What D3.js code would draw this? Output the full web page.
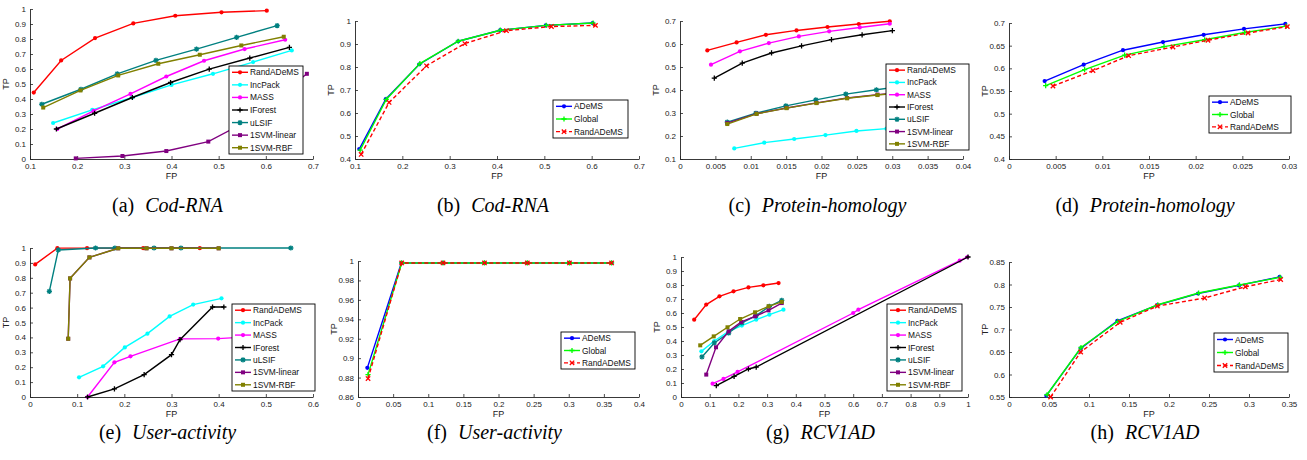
<!DOCTYPE html>
<html>
<head>
<meta charset="utf-8">
<script src="https://cdnjs.cloudflare.com/ajax/libs/d3/7.8.5/d3.min.js"></script>
<style>
body{margin:0;background:#fff;}
.tk text{font-family:"Liberation Sans",Arial,sans-serif;font-size:8px;fill:#222;}
</style>
</head>
<body>
<svg id="fig" width="1307" height="460"></svg>
<script>
// series data, [FP, TP] pairs

// (a) Cod-RNA, all methods
var aRandADeMS = [[0.108,0.443],[0.166,0.657],[0.238,0.806],[0.319,0.904],[0.408,0.955],[0.506,0.978],[0.602,0.989]];
var aIncPack = [[0.149,0.240],[0.232,0.327],[0.317,0.410],[0.400,0.494],[0.488,0.568],[0.573,0.646],[0.655,0.724]];
var aMASS = [[0.158,0.200],[0.235,0.321],[0.313,0.434],[0.389,0.550],[0.469,0.655],[0.555,0.733],[0.641,0.795]];
var aIForest = [[0.156,0.200],[0.237,0.305],[0.317,0.410],[0.398,0.510],[0.480,0.599],[0.566,0.673],[0.650,0.744]];
var auLSIF = [[0.125,0.365],[0.208,0.465],[0.285,0.568],[0.367,0.657],[0.453,0.733],[0.538,0.811],[0.624,0.889]];
var aSVMlinear = [[0.197,0.004],[0.296,0.020],[0.389,0.053],[0.478,0.116],[0.565,0.260],[0.687,0.568]];
var aSVMrbf = [[0.128,0.343],[0.207,0.457],[0.287,0.557],[0.372,0.635],[0.460,0.695],[0.548,0.757],[0.638,0.815]];

// (b) Cod-RNA, variants
var bADeMS = [[0.109,0.443],[0.165,0.660],[0.236,0.812],[0.318,0.912],[0.407,0.960],[0.503,0.981],[0.602,0.991]];
var bGlobal = [[0.111,0.439],[0.166,0.659],[0.237,0.815],[0.318,0.912],[0.407,0.960],[0.504,0.981],[0.603,0.991]];
var bRandADeMS = [[0.113,0.420],[0.172,0.646],[0.251,0.805],[0.332,0.902],[0.420,0.958],[0.515,0.976],[0.608,0.981]];

// (c) Protein-homology, all methods
var cRandADeMS = [[0.00386,0.572],[0.0080,0.607],[0.01214,0.640],[0.01647,0.659],[0.02085,0.674],[0.02527,0.687],[0.02965,0.699]];
var cIncPack = [[0.00767,0.146],[0.01191,0.171],[0.01614,0.187],[0.02056,0.204],[0.02494,0.222],[0.02918,0.232]];
var cMASS = [[0.00438,0.510],[0.00847,0.568],[0.01256,0.604],[0.0168,0.633],[0.02108,0.655],[0.02541,0.672],[0.02965,0.688]];
var cIForest = [[0.00485,0.452],[0.0088,0.517],[0.01294,0.561],[0.01718,0.592],[0.02141,0.619],[0.02574,0.640],[0.03002,0.658]];
var cuLSIF = [[0.00668,0.260],[0.01073,0.299],[0.01496,0.331],[0.0192,0.357],[0.02343,0.382],[0.02776,0.401],[0.0318,0.418]];
var cSVMlinear = [[0.00668,0.256],[0.01082,0.297],[0.01506,0.322],[0.01929,0.344],[0.02362,0.365],[0.02791,0.380],[0.0321,0.392]];
var cSVMrbf = [[0.00668,0.252],[0.01082,0.296],[0.01506,0.321],[0.01929,0.343],[0.02362,0.364],[0.02791,0.378],[0.0321,0.390]];

// (d) Protein-homology, variants
var dADeMS = [[0.00382,0.572],[0.0080,0.608],[0.01221,0.640],[0.0165,0.658],[0.02086,0.674],[0.02518,0.687],[0.02961,0.698]];
var dGlobal = [[0.00393,0.562],[0.0081,0.597],[0.01239,0.629],[0.01661,0.648],[0.02096,0.663],[0.02525,0.679],[0.0297,0.693]];
var dRandADeMS = [[0.00471,0.561],[0.0090,0.595],[0.01282,0.628],[0.01757,0.647],[0.02132,0.662],[0.02561,0.678],[0.02982,0.692]];

// (e) User-activity, all methods
var eRandADeMS = [[0.011,0.890],[0.058,0.999],[0.121,0.999],[0.240,0.999],[0.360,0.999]];
var eIncPack = [[0.104,0.132],[0.155,0.206],[0.201,0.333],[0.249,0.425],[0.296,0.541],[0.346,0.620],[0.406,0.662]];
var eMASS = [[0.122,0.0],[0.179,0.233],[0.213,0.273],[0.318,0.390],[0.399,0.392],[0.600,0.430]];
var eIForest = [[0.122,0.0],[0.179,0.054],[0.242,0.150],[0.300,0.284],[0.318,0.385],[0.387,0.604],[0.411,0.604]];
var euLSIF = [[0.041,0.709],[0.060,0.987],[0.139,1.0],[0.180,1.0],[0.263,1.0],[0.320,1.0],[0.553,1.0]];
var eSVMlinear = [[0.081,0.391],[0.085,0.796],[0.126,0.937],[0.187,0.998],[0.247,0.998],[0.300,0.998],[0.400,0.998]];
var eSVMrbf = [[0.081,0.391],[0.085,0.796],[0.126,0.937],[0.187,0.998],[0.247,0.998],[0.300,0.998],[0.400,0.998]];

// (f) User-activity, variants
var fADeMS = [[0.0133,0.890],[0.0617,0.998],[0.121,0.998],[0.180,0.998],[0.241,0.998],[0.301,0.998],[0.361,0.998]];
var fGlobal = [[0.0143,0.883],[0.0622,0.998],[0.121,0.998],[0.180,0.998],[0.241,0.998],[0.301,0.998],[0.361,0.998]];
var fRandADeMS = [[0.0143,0.879],[0.0622,0.998],[0.121,0.998],[0.180,0.998],[0.241,0.998],[0.301,0.998],[0.361,0.998]];

// (g) RCV1AD, all methods
var gRandADeMS = [[0.046,0.552],[0.088,0.660],[0.134,0.719],[0.183,0.755],[0.235,0.783],[0.287,0.798],[0.340,0.814]];
var gIncPack = [[0.071,0.326],[0.116,0.400],[0.166,0.469],[0.212,0.510],[0.262,0.552],[0.308,0.588],[0.357,0.624]];
var gMASS = [[0.110,0.095],[0.148,0.129],[0.197,0.179],[0.600,0.600],[0.618,0.624],[0.971,0.974],[0.998,1.0]];
var gIForest = [[0.123,0.081],[0.185,0.148],[0.235,0.200],[0.262,0.214],[1.0,1.0]];
var guLSIF = [[0.073,0.286],[0.116,0.386],[0.166,0.457],[0.212,0.529],[0.262,0.581],[0.308,0.648],[0.351,0.690]];
var gSVMlinear = [[0.088,0.160],[0.122,0.355],[0.166,0.469],[0.210,0.536],[0.258,0.576],[0.305,0.619],[0.351,0.671]];
var gSVMrbf = [[0.067,0.369],[0.114,0.433],[0.162,0.498],[0.206,0.557],[0.258,0.605],[0.305,0.648],[0.351,0.679]];

// (h) RCV1AD, variants
var hADeMS = [[0.0467,0.553],[0.0896,0.658],[0.1354,0.719],[0.1854,0.754],[0.2363,0.780],[0.2875,0.798],[0.3383,0.817]];
var hGlobal = [[0.0475,0.555],[0.0900,0.660],[0.1360,0.718],[0.1860,0.755],[0.2370,0.781],[0.2880,0.799],[0.3390,0.816]];
var hRandADeMS = [[0.0520,0.550],[0.0896,0.650],[0.1390,0.716],[0.1854,0.752],[0.2446,0.770],[0.2954,0.795],[0.3396,0.811]];

var methodsAll = ["RandADeMS","IncPack","MASS","IForest","uLSIF","1SVM-linear","1SVM-RBF"];
var methodsVar = ["ADeMS","Global","RandADeMS"];
var captions = [["(a)","Cod-RNA"],["(b)","Cod-RNA"],["(c)","Protein-homology"],["(d)","Protein-homology"],
                ["(e)","User-activity"],["(f)","User-activity"],["(g)","RCV1AD"],["(h)","RCV1AD"]];

// line styles for the two kinds of panels
var styleAll = {
	"RandADeMS":  {c:"#ff0000", m:"dot"},
	"IncPack":    {c:"#00ffff", m:"dot"},
	"MASS":       {c:"#ff00ff", m:"dot"},
	"IForest":    {c:"#000000", m:"plus"},
	"uLSIF":      {c:"#008080", m:"star"},
	"1SVM-linear":{c:"#800080", m:"square"},
	"1SVM-RBF":   {c:"#808000", m:"square"}
};
var styleVar = {
	"ADeMS":     {c:"#0000ff", m:"dot"},
	"Global":    {c:"#00ff00", m:"plus"},
	"RandADeMS": {c:"#ff0000", m:"cross", dash:"4,2.5"}
};

var panels = [
	{data:[aRandADeMS,aIncPack,aMASS,aIForest,auLSIF,aSVMlinear,aSVMrbf], names:methodsAll, st:styleAll,
	 xd:[0.1,0.7], xs:0.1, yd:[0,1], ys:0.1, l:30, r:313, t:9, b:159, leg:[229,66,74,88]},
	{data:[bADeMS,bGlobal,bRandADeMS], names:methodsVar, st:styleVar,
	 xd:[0.1,0.7], xs:0.1, yd:[0.4,1], ys:0.1, l:355, r:639, t:21, b:159, leg:[553,100,75,38]},
	{data:[cRandADeMS,cIncPack,cMASS,cIForest,cuLSIF,cSVMlinear,cSVMrbf], names:methodsAll, st:styleAll,
	 xd:[0,0.04], xs:0.005, yd:[0.1,0.7], ys:0.1, l:680, r:963, t:21, b:159, leg:[886,64,83,86]},
	{data:[dADeMS,dGlobal,dRandADeMS], names:methodsVar, st:styleVar,
	 xd:[0,0.03], xs:0.005, yd:[0.4,0.7], ys:0.05, l:1009, r:1289, t:23, b:159, leg:[1209,96,82,37]},
	{data:[eRandADeMS,eIncPack,eMASS,eIForest,euLSIF,eSVMlinear,eSVMrbf], names:methodsAll, st:styleAll,
	 xd:[0,0.6], xs:0.1, yd:[0,1], ys:0.1, l:30, r:313, t:248, b:397, leg:[232,304,83,87]},
	{data:[fADeMS,fGlobal,fRandADeMS], names:methodsVar, st:styleVar,
	 xd:[0,0.4], xs:0.05, yd:[0.86,1], ys:0.02, l:358, r:639, t:261, b:397, leg:[561,332,74,37]},
	{data:[gRandADeMS,gIncPack,gMASS,gIForest,guLSIF,gSVMlinear,gSVMrbf], names:methodsAll, st:styleAll,
	 xd:[0,1], xs:0.1, yd:[0,1], ys:0.1, l:681, r:968, t:257, b:397, leg:[887,304,75,87]},
	{data:[hADeMS,hGlobal,hRandADeMS], names:methodsVar, st:styleVar,
	 xd:[0,0.35], xs:0.05, yd:[0.55,0.85], ys:0.05, l:1009, r:1289, t:262, b:397, leg:[1214,333,74,39]}
];

var svg = d3.select("#fig");
var fmt = d3.format("~g");

function tickList(d, step){
	var n = Math.round((d[1]-d[0])/step);
	return d3.range(n+1).map(function(i){ return +(d[0]+i*step).toFixed(5); });
}

function drawMarker(g, kind, cx, cy, col){
	if(kind=="dot"){
		g.append("circle").attr("cx",cx).attr("cy",cy).attr("r",2.1).attr("fill",col);
	} else if(kind=="square"){
		g.append("rect").attr("x",cx-2).attr("y",cy-2).attr("width",4).attr("height",4).attr("fill",col);
	} else {
		var s = 2.6, p = "";
		if(kind=="plus" || kind=="star") p += "M"+(cx-s)+","+cy+"H"+(cx+s)+"M"+cx+","+(cy-s)+"V"+(cy+s);
		if(kind=="cross" || kind=="star"){
			var k = kind=="star" ? 1.9 : 2.2;
			p += "M"+(cx-k)+","+(cy-k)+"L"+(cx+k)+","+(cy+k)+"M"+(cx-k)+","+(cy+k)+"L"+(cx+k)+","+(cy-k);
		}
		g.append("path").attr("d",p).attr("stroke",col).attr("stroke-width",1.3).attr("fill","none");
	}
}

function drawPanel(p, idx){
	var g = svg.append("g");
	var x = d3.scaleLinear().domain(p.xd).range([p.l, p.r]);
	var y = d3.scaleLinear().domain(p.yd).range([p.b, p.t]);

	// axes, matlab style: ticks pointing inwards, no box
	var gx = g.append("g").attr("class","tk").attr("transform","translate(0,"+p.b+")")
		.call(d3.axisBottom(x).tickValues(tickList(p.xd,p.xs)).tickFormat(fmt).tickSizeInner(-3).tickSizeOuter(0).tickPadding(4));
	var gy = g.append("g").attr("class","tk").attr("transform","translate("+p.l+",0)")
		.call(d3.axisLeft(y).tickValues(tickList(p.yd,p.ys)).tickFormat(fmt).tickSizeInner(-3).tickSizeOuter(0).tickPadding(4));
	g.selectAll(".tk .domain").attr("stroke","#222").attr("stroke-width",0.9);
	g.selectAll(".tk .tick line").attr("stroke","#222").attr("stroke-width",0.8);

	g.append("text").attr("x",(p.l+p.r)/2).attr("y",p.b+20).attr("text-anchor","middle")
		.attr("font-family","Liberation Sans,Arial,sans-serif").attr("font-size",9).attr("fill","#222").text("FP");
	g.append("text").attr("transform","translate("+(p.l-21)+","+((p.t+p.b)/2)+") rotate(-90)").attr("text-anchor","middle")
		.attr("font-family","Liberation Sans,Arial,sans-serif").attr("font-size",9).attr("fill","#222").text("TP");

	var line = d3.line().x(function(d){return x(d[0]);}).y(function(d){return y(d[1]);});

	p.data.forEach(function(ser, i){
		var st = p.st[p.names[i]];
		g.append("path").datum(ser).attr("d",line).attr("fill","none")
			.attr("stroke",st.c).attr("stroke-width",1.4).attr("stroke-dasharray",st.dash||null);
		var mg = g.append("g");
		ser.forEach(function(d){ drawMarker(mg, st.m, x(d[0]), y(d[1]), st.c); });
	});

	// legend box
	var L = p.leg;
	var lg = g.append("g");
	lg.append("rect").attr("x",L[0]).attr("y",L[1]).attr("width",L[2]).attr("height",L[3])
		.attr("fill","#fff").attr("stroke","#000").attr("stroke-width",0.9);
	var rowH = L[3]/p.names.length;
	p.names.forEach(function(nm, i){
		var st = p.st[nm];
		var ry = L[1] + rowH*(i+0.5);
		lg.append("line").attr("x1",L[0]+3).attr("x2",L[0]+19).attr("y1",ry).attr("y2",ry)
			.attr("stroke",st.c).attr("stroke-width",1.4).attr("stroke-dasharray",st.dash||null);
		drawMarker(lg, st.m, L[0]+11, ry, st.c);
		lg.append("text").attr("x",L[0]+21).attr("y",ry+3)
			.attr("font-family","Liberation Sans,Arial,sans-serif").attr("font-size",8.4).attr("fill","#111").text(nm);
	});

	// caption under the panel
	var cap = captions[idx];
	var ct = g.append("text").attr("x",(p.l+p.r)/2 - 4).attr("y", idx<4 ? 212 : 439).attr("text-anchor","middle")
		.attr("font-family","Liberation Serif,Times New Roman,serif").attr("font-size",20).attr("fill","#000");
	ct.append("tspan").text(cap[0]);
	ct.append("tspan").attr("dx",11).attr("font-style","italic").text(cap[1]);
}

panels.forEach(drawPanel);
</script>
</body>
</html>
